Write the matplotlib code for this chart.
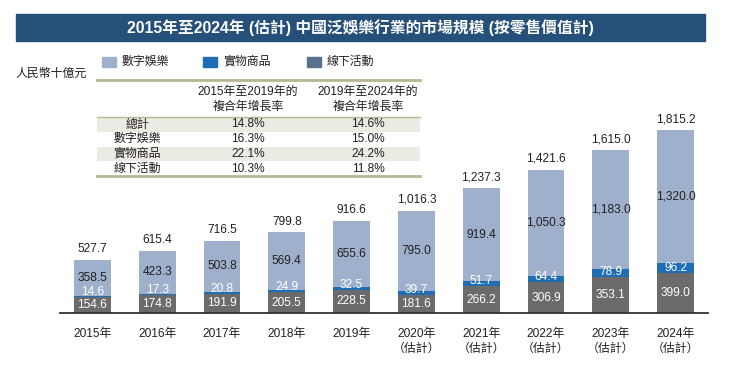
import numpy as np
import matplotlib
matplotlib.use("Agg")
import matplotlib.pyplot as plt
from matplotlib.patches import Rectangle

plt.rcParams['font.family'] = ['Liberation Sans', 'Noto Sans CJK TC', 'DejaVu Sans']

years = ["2015年", "2016年", "2017年", "2018年", "2019年",
         "2020年\n（估計）", "2021年\n（估計）", "2022年\n（估計）",
         "2023年\n（估計）", "2024年\n（估計）"]
digital = [358.5, 423.3, 503.8, 569.4, 655.6, 795.0, 919.4, 1050.3, 1183.0, 1320.0]
goods = [14.6, 17.3, 20.8, 24.9, 32.5, 39.7, 51.7, 64.4, 78.9, 96.2]
offline = [154.6, 174.8, 191.9, 205.5, 228.5, 181.6, 266.2, 306.9, 353.1, 399.0]
totals = [527.7, 615.4, 716.5, 799.8, 916.6, 1016.3, 1237.3, 1421.6, 1615.0, 1815.2]

series_names = ["數字娛樂", "實物商品", "線下活動"]
cagr_rows = ["總計", "數字娛樂", "實物商品", "線下活動"]
cagr_1519 = ["14.8%", "16.3%", "22.1%", "10.3%"]
cagr_1924 = ["14.6%", "15.0%", "24.2%", "11.8%"]
cagr_heads = [("2015年至2019年的", "複合年增長率"), ("2019年至2024年的", "複合年增長率")]

title = "2015年至2024年 (估計) 中國泛娛樂行業的市場規模 (按零售價值計)"
unit = "人民幣十億元"

c_digital = "#9fb0cc"
c_goods = "#1f6db3"
c_offline = "#6b6b6b"
c_offline_legend = "#58718f"
c_title = "#24507a"
c_text = "#231f20"
c_rule = "#b9b78f"
c_shade = "#ecebe3"

W, H = 739, 370
fig = plt.figure(figsize=(W / 100, H / 100), dpi=100)

# bars
ax = fig.add_axes([60 / W, 57 / H, 648 / W, 201.6 / H])
ax.set_facecolor('none')
x = np.arange(len(years))
bw = 0.57
offline = np.array(offline)
goods = np.array(goods)
digital = np.array(digital)
ax.bar(x, offline, bw, color=c_offline, zorder=2)
ax.bar(x, goods, bw, bottom=offline, color=c_goods, zorder=2)
ax.bar(x, digital, bw, bottom=offline + goods, color=c_digital, zorder=2)

fs = 8.6
for i in range(len(x)):
    ax.text(x[i], offline[i] / 2, f"{offline[i]:,.1f}", ha='center', va='center',
            color='white', fontsize=fs, zorder=3)
    ax.text(x[i], offline[i] + 50, f"{goods[i]:,.1f}", ha='center', va='center',
            color='white', fontsize=fs, zorder=3)
    ax.text(x[i], offline[i] + goods[i] + digital[i] / 2, f"{digital[i]:,.1f}",
            ha='center', va='center', color=c_text, fontsize=fs, zorder=3)
    ax.annotate(f"{totals[i]:,.1f}", (x[i], totals[i]), xytext=(0, 3.5),
                textcoords='offset points', ha='center', va='bottom',
                color=c_text, fontsize=fs)

ax.set_xlim(-0.5, 9.5)
ax.set_ylim(0, 2000)
for s in ['top', 'right', 'left']:
    ax.spines[s].set_visible(False)
ax.spines['bottom'].set_color('#333333')
ax.spines['bottom'].set_linewidth(1.3)
ax.set_yticks([])
ax.set_xticks(x)
ax.set_xticklabels(years, fontsize=fs, color=c_text, linespacing=1.25)
ax.tick_params(axis='x', length=0, pad=11)

# overlay in pixel coords: title, legend, table
ov = fig.add_axes([0, 0, 1, 1])
ov.set_xlim(0, W)
ov.set_ylim(H, 0)
ov.axis('off')

ov.add_patch(Rectangle((16, 14), 689, 27, color=c_title))
ov.text(360.5, 27.5, title, color='white', fontsize=11.3, fontweight='bold',
        ha='center', va='center')

leg_x = [102, 203, 307]
leg_c = [c_digital, c_goods, c_offline_legend]
for lx, lc, name in zip(leg_x, leg_c, series_names):
    ov.add_patch(Rectangle((lx, 57), 14, 10, color=lc))
    ov.text(lx + 20, 62, name, fontsize=fs, color=c_text, va='center', ha='left')

ov.text(15, 74, unit, fontsize=fs, color=c_text, va='center', ha='left')

# CAGR table
tx0, tx1 = 97, 420
col_x = [137, 248, 368]
ov.plot([tx0, tx1], [80, 80], color=c_rule, lw=2)
for cx, (l1, l2) in zip(col_x[1:], cagr_heads):
    ov.text(cx, 92, l1, fontsize=fs, color=c_text, ha='center', va='center')
    ov.text(cx, 107, l2, fontsize=fs, color=c_text, ha='center', va='center')
row_top = 117
rh = 14.75
for r in range(len(cagr_rows)):
    y0 = row_top + r * rh
    if r % 2 == 0:
        ov.add_patch(Rectangle((tx0, y0), tx1 - tx0, rh, color=c_shade, lw=0))
    yc = y0 + rh / 2
    ov.text(col_x[0], yc, cagr_rows[r], fontsize=fs, color=c_text, ha='center', va='center')
    ov.text(col_x[1], yc, cagr_1519[r], fontsize=fs, color=c_text, ha='center', va='center')
    ov.text(col_x[2], yc, cagr_1924[r], fontsize=fs, color=c_text, ha='center', va='center')
ov.plot([tx0, tx1], [row_top, row_top], color=c_rule, lw=1)
ov.plot([tx0, tx1], [row_top + 4 * rh, row_top + 4 * rh], color=c_rule, lw=2)

fig.savefig("out.png", dpi=100)
